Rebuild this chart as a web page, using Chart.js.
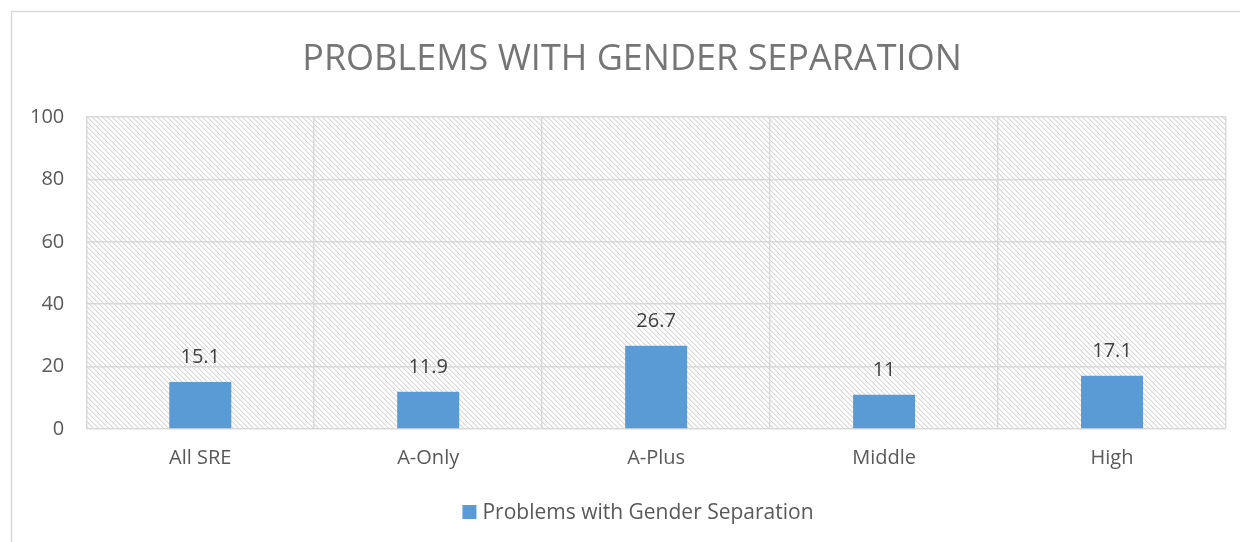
<!DOCTYPE html>
<html><head><meta charset="utf-8">
<script src="https://cdn.jsdelivr.net/npm/chart.js@4.4.0/dist/chart.umd.min.js"></script>
<style>html,body{margin:0;padding:0;background:#fff;}#wrap{width:1240px;height:542px;position:relative;}</style>
</head><body><div id="wrap"><canvas id="c" width="1240" height="542"></canvas></div>
<script>
const categories = ["All SRE", "A-Only", "A-Plus", "Middle", "High"];
const values = [15.1, 11.9, 26.7, 11, 17.1];
const seriesName = "Problems with Gender Separation";
const chartTitle = "PROBLEMS WITH GENDER SEPARATION";
const yTicks = [0, 20, 40, 60, 80, 100];

const FONT = "'Open Sans', 'Liberation Sans', sans-serif";
const BAR_COLOR = '#5b9bd5';

function makeHatch(ctx) {
  const n = 5;
  const p = document.createElement('canvas');
  p.width = n; p.height = n;
  const g = p.getContext('2d');
  g.fillStyle = '#ffffff'; g.fillRect(0,0,n,n);
  g.fillStyle = '#d8d8d8';
  for (let i = 0; i < n; i++) { g.fillRect(i, i, 1, 1); }
  g.fillStyle = '#ececec';
  for (let i = 0; i < n; i++) { g.fillRect((i + 1) % n, i, 1, 1); }
  return ctx.createPattern(p, 'repeat');
}

const framePlugin = {
  id: 'frame',
  beforeDraw(chart) {
    const ctx = chart.ctx;
    ctx.save();
    ctx.fillStyle = '#fff';
    ctx.fillRect(0,0,chart.width,chart.height);
    ctx.strokeStyle = '#d9d9d9';
    ctx.lineWidth = 1.5;
    ctx.beginPath();
    ctx.moveTo(11.5, chart.height);
    ctx.lineTo(11.5, 11.5);
    ctx.lineTo(chart.width, 11.5);
    ctx.stroke();
    const a = chart.chartArea;
    ctx.fillStyle = makeHatch(ctx);
    ctx.fillRect(a.left, a.top, a.right - a.left, a.bottom - a.top);
    // title
    ctx.font = "36px " + FONT;
    ctx.fillStyle = '#757575';
    ctx.textAlign = 'center';
    ctx.textBaseline = 'middle';
    ctx.fillText(chartTitle, 632, 60);
    // legend
    ctx.font = "21px " + FONT;
    ctx.textAlign = 'left';
    const tw = ctx.measureText(seriesName).width;
    const total = 14 + 6 + tw;
    const x0 = 638 - total / 2;
    ctx.fillStyle = BAR_COLOR;
    ctx.fillRect(x0, 505, 14, 14);
    ctx.fillStyle = '#595959';
    ctx.fillText(seriesName, x0 + 20, 513);
    ctx.restore();
  },
  afterDatasetsDraw(chart) {
    const ctx = chart.ctx;
    const meta = chart.getDatasetMeta(0);
    ctx.save();
    ctx.font = "20px " + FONT;
    ctx.fillStyle = '#404040';
    ctx.textAlign = 'center';
    ctx.textBaseline = 'alphabetic';
    meta.data.forEach((el, i) => {
      ctx.fillText(String(chart.data.datasets[0].data[i]), el.x, el.y - 19);
    });
    ctx.restore();
  }
};

new Chart(document.getElementById('c'), {
  type: 'bar',
  data: {
    labels: categories,
    datasets: [{
      label: seriesName,
      data: values,
      backgroundColor: BAR_COLOR,
      borderWidth: 0,
      barPercentage: 0.272,
      categoryPercentage: 1.0
    }]
  },
  options: {
    responsive: false,
    animation: false,
    devicePixelRatio: 1,
    layout: { padding: { left: 8, right: 14, top: 117, bottom: 55 } },
    plugins: {
      title: { display: false },
      legend: { display: false },
      tooltip: { enabled: false }
    },
    scales: {
      x: {
        grid: { color: '#d9d9d9', lineWidth: 1.5, drawTicks: false, offset: true },
        border: { display: false },
        ticks: { color: '#595959', font: { family: FONT, size: 20 }, padding: 17 }
      },
      y: {
        min: 0, max: 100,
        afterBuildTicks(scale) { scale.ticks = yTicks.map(v => ({ value: v })); },
        grid: { color: '#d9d9d9', lineWidth: 1.5, drawTicks: false },
        border: { display: false },
        ticks: { color: '#595959', font: { family: FONT, size: 20 }, padding: 22 }
      }
    }
  },
  plugins: [framePlugin]
});
</script></body></html>
